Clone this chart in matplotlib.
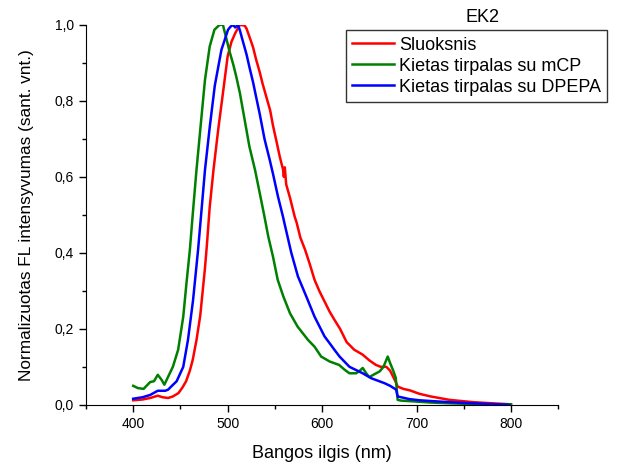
import numpy as np
import matplotlib.pyplot as plt
from matplotlib.ticker import MultipleLocator, FuncFormatter

plt.rcParams['font.family'] = ['Liberation Sans', 'DejaVu Sans']

# Sluoksnis (red)
wl_red = [400, 410, 418, 426, 431, 437, 442, 448, 452, 456, 460, 463, 467, 471, 476, 478,
          481, 485, 490, 495, 500, 504, 508, 513, 518, 520, 524, 527, 530, 534, 537, 541,
          545, 548, 552, 555, 557, 558.6, 559.5, 560.5, 562, 566, 571, 573, 577, 582, 587,
          592, 597, 603, 608, 613, 619, 626, 634, 643, 650, 657, 662, 668, 672, 675, 678,
          680, 686, 693, 703, 715, 735, 760, 780, 795, 800]
int_red = [0.012, 0.014, 0.018, 0.024, 0.020, 0.018, 0.022, 0.031, 0.045, 0.062, 0.09, 0.118, 0.17,
           0.235, 0.36, 0.42, 0.52, 0.618, 0.724, 0.82, 0.917, 0.955, 0.978, 1.0, 0.998, 0.99,
           0.962, 0.94, 0.91, 0.875, 0.845, 0.81, 0.775, 0.735, 0.69, 0.655, 0.635, 0.62, 0.60, 0.625,
           0.58, 0.545, 0.495, 0.48, 0.44, 0.408, 0.37, 0.329, 0.30, 0.27, 0.245, 0.224, 0.20,
           0.165, 0.145, 0.132, 0.117, 0.105, 0.10, 0.10, 0.09, 0.075, 0.06, 0.048, 0.042, 0.038,
           0.029, 0.022, 0.013, 0.007, 0.004, 0.002, 0.001]

# Kietas tirpalas su mCP (green)
wl_green = [400, 405, 411, 418, 422, 426, 430, 433, 437, 442, 447.6, 453, 456.4, 460, 463, 467,
            472, 476, 481, 486, 491.5, 495, 499, 502, 506, 509, 513, 518, 523, 529, 534, 539,
            543, 548, 553, 559, 566, 574, 585, 592, 599, 608, 618, 624, 629, 636, 640, 643, 647,
            650, 655, 661, 665, 669.5, 672, 675, 678, 680, 684, 697, 715, 735, 760, 800]
int_green = [0.05, 0.044, 0.042, 0.06, 0.062, 0.079, 0.066, 0.053, 0.074, 0.10, 0.145, 0.232, 0.32,
             0.408, 0.50, 0.618, 0.75, 0.855, 0.943, 0.987, 1.0, 1.0, 0.96, 0.93, 0.895, 0.865,
             0.82, 0.75, 0.68, 0.618, 0.557, 0.495, 0.443, 0.39, 0.329, 0.285, 0.241, 0.206,
             0.171, 0.153, 0.127, 0.114, 0.105, 0.092, 0.083, 0.083, 0.09, 0.097, 0.082, 0.073,
             0.08, 0.088, 0.10, 0.127, 0.11, 0.092, 0.071, 0.013, 0.011, 0.009, 0.006, 0.004,
             0.002, 0.001]

# Kietas tirpalas su DPEPA (blue)
wl_blue = [400, 410, 418, 426, 430, 434, 437, 441, 446, 453, 458, 463.4, 468.7, 473.3, 476, 481,
           486.4, 493.4, 500.4, 503, 505.7, 508, 511, 513, 516.3, 520, 523.4, 527, 530, 534, 539,
           544.5, 548, 553.3, 558.6, 560.4, 567.4, 574.4, 583.3, 592, 602.6, 608, 613, 618.5,
           622, 629, 643, 652, 666, 672, 678.4, 680, 692.5, 703, 715, 735, 760, 780, 798]
int_blue = [0.016, 0.02, 0.026, 0.037, 0.037, 0.037, 0.04, 0.05, 0.062, 0.1, 0.171, 0.276, 0.408,
            0.54, 0.618, 0.73, 0.84, 0.934, 0.987, 0.995, 1.0, 0.993, 1.0, 0.985, 0.955, 0.922, 0.885,
            0.848, 0.812, 0.765, 0.70, 0.645, 0.608, 0.548, 0.495, 0.475, 0.40, 0.338, 0.285, 0.232,
            0.18, 0.162, 0.145, 0.127, 0.118, 0.10, 0.083, 0.07, 0.057, 0.05, 0.04, 0.022, 0.015,
            0.012, 0.010, 0.007, 0.004, 0.002, 0.0]

labels = ['Sluoksnis', 'Kietas tirpalas su mCP', 'Kietas tirpalas su DPEPA']
colors = ['#ff0000', '#008000', '#0000ff']

fig = plt.figure(figsize=(6.23, 4.68), dpi=100)
ax = fig.add_axes([0.138, 0.135, 0.758, 0.812])

ax.plot(wl_red, int_red, color=colors[0], lw=1.8, label=labels[0])
ax.plot(wl_green, int_green, color=colors[1], lw=1.8, label=labels[1])
ax.plot(wl_blue, int_blue, color=colors[2], lw=1.8, label=labels[2])

ax.set_xlim(350, 850)
ax.set_ylim(0, 1.0)
ax.xaxis.set_major_locator(MultipleLocator(100))
ax.xaxis.set_minor_locator(MultipleLocator(50))
ax.yaxis.set_major_locator(MultipleLocator(0.2))
ax.yaxis.set_minor_locator(MultipleLocator(0.1))
ax.yaxis.set_major_formatter(FuncFormatter(lambda v, p: f'{v:.1f}'.replace('.', ',')))
ax.set_xticks([400, 500, 600, 700, 800])
ax.tick_params(which='major', direction='out', length=5, width=1, labelsize=10)
ax.tick_params(which='minor', direction='out', length=3, width=1)
ax.spines['top'].set_visible(False)
ax.spines['right'].set_visible(False)

ax.set_xlabel('Bangos ilgis (nm)', fontsize=13, labelpad=10)
ax.set_ylabel('Normalizuotas FL intensyvumas (sant. vnt.)', fontsize=12.4, labelpad=15)

fig.text(0.774, 0.962, 'EK2', ha='center', va='center', fontsize=13)
leg = fig.legend(loc='upper left', bbox_to_anchor=(0.555, 0.935), fontsize=13,
                 frameon=True, fancybox=False, borderpad=0.35, labelspacing=0.22,
                 handlelength=2.3, handletextpad=0.3, borderaxespad=0)
leg.get_frame().set_edgecolor('black')
leg.get_frame().set_linewidth(1)

fig.savefig('out.png', dpi=100)
